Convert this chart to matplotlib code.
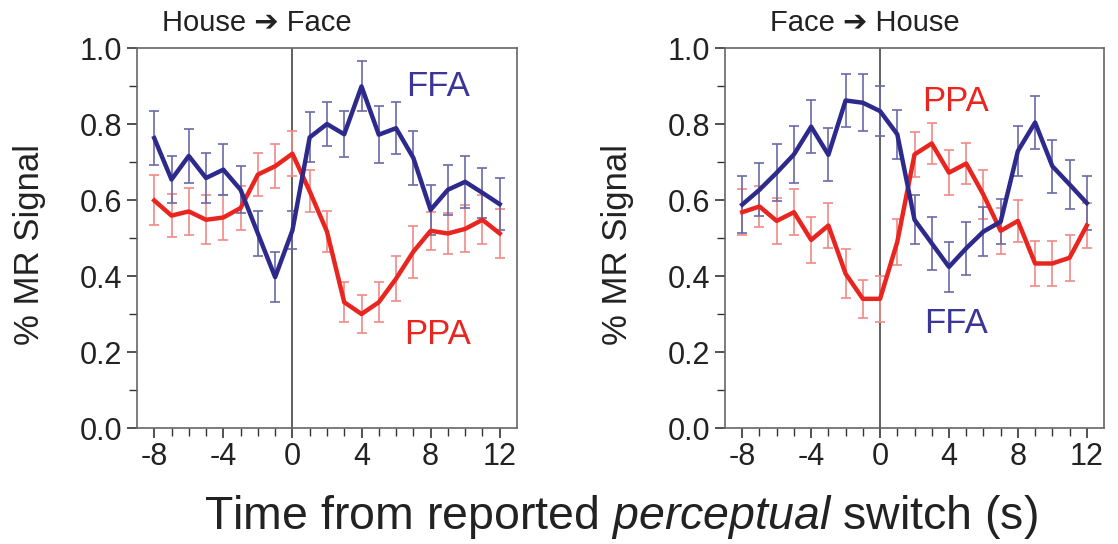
"""
FFA és PPA válasz a perceptuális váltás körül
"""

import matplotlib.pyplot as plt
import numpy as np

# Idő (s)
t = np.arange(-8, 13)

# House -> Face
ffa_hf = [0.763, 0.654, 0.716, 0.658, 0.680, 0.627, 0.512, 0.397, 0.52, 0.765, 0.800,
          0.773, 0.899, 0.772, 0.789, 0.711, 0.574, 0.627, 0.648, 0.619, 0.589]
ffa_hf_err = [0.071, 0.062, 0.07, 0.066, 0.067, 0.062, 0.058, 0.066, 0.05, 0.066, 0.057,
              0.06, 0.066, 0.075, 0.069, 0.071, 0.066, 0.066, 0.069, 0.066, 0.069]
ppa_hf = [0.599, 0.559, 0.570, 0.548, 0.554, 0.579, 0.667, 0.689, 0.722, 0.623, 0.517,
          0.331, 0.300, 0.331, 0.393, 0.464, 0.519, 0.512, 0.524, 0.548, 0.512]
ppa_hf_err = [0.066, 0.057, 0.062, 0.064, 0.06, 0.058, 0.057, 0.058, 0.06, 0.055, 0.053,
              0.053, 0.051, 0.053, 0.06, 0.068, 0.05, 0.053, 0.062, 0.064, 0.064]

# Face -> House
ffa_fh = [0.588, 0.627, 0.672, 0.720, 0.793, 0.719, 0.862, 0.856, 0.834, 0.773, 0.548,
          0.486, 0.424, 0.473, 0.517, 0.543, 0.729, 0.804, 0.689, 0.641, 0.592]
ffa_fh_err = [0.075, 0.07, 0.075, 0.075, 0.07, 0.07, 0.07, 0.075, 0.065, 0.065, 0.065,
              0.07, 0.065, 0.07, 0.065, 0.06, 0.065, 0.07, 0.07, 0.065, 0.07]
ppa_fh = [0.568, 0.583, 0.545, 0.568, 0.495, 0.533, 0.406, 0.340, 0.340, 0.490, 0.720,
          0.749, 0.672, 0.696, 0.614, 0.519, 0.545, 0.433, 0.433, 0.448, 0.533]
ppa_fh_err = [0.06, 0.055, 0.06, 0.06, 0.06, 0.06, 0.065, 0.05, 0.06, 0.06, 0.06,
              0.055, 0.06, 0.055, 0.065, 0.06, 0.055, 0.06, 0.06, 0.06, 0.06]

titles = ['House \u2794 Face', 'Face \u2794 House']

kek = '#2d2a8c'
piros = '#e8261f'
kek_hiba = '#6b6aa8'
piros_hiba = '#f08a86'

plt.rcParams['font.family'] = ['Liberation Sans', 'DejaVu Sans']
plt.rcParams['mathtext.fontset'] = 'custom'
plt.rcParams['mathtext.rm'] = 'Liberation Sans'
plt.rcParams['mathtext.it'] = 'Liberation Sans:italic'
plt.rcParams['axes.unicode_minus'] = False

fig = plt.figure(figsize=(11.18, 5.44), dpi=100)
ax1 = fig.add_axes([0.1225, 0.2132, 0.3399, 0.6985])
ax2 = fig.add_axes([0.6485, 0.2132, 0.3390, 0.6985])

panels = [
    (ax1, ffa_hf, ffa_hf_err, ppa_hf, ppa_hf_err, (8.4, 0.90), (8.4, 0.245)),
    (ax2, ffa_fh, ffa_fh_err, ppa_fh, ppa_fh_err, (4.4, 0.276), (4.4, 0.86)),
]

for ax, ffa, ffa_err, ppa, ppa_err, ffa_pos, ppa_pos in panels:
    ax.axvline(0, color='#444444', lw=1.2, zorder=1)
    ax.errorbar(t, ppa, yerr=ppa_err, fmt='none', ecolor=piros_hiba, elinewidth=1.2,
                capsize=3.5, capthick=1.2, zorder=2)
    ax.errorbar(t, ffa, yerr=ffa_err, fmt='none', ecolor=kek_hiba, elinewidth=1.2,
                capsize=3.5, capthick=1.2, zorder=2)
    ax.plot(t, ppa, color=piros, lw=3.2, zorder=3)
    ax.plot(t, ffa, color=kek, lw=3.2, zorder=4)
    ax.text(*ffa_pos, 'FFA', color='#3a3596', fontsize=25, ha='center', va='center')
    ax.text(*ppa_pos, 'PPA', color=piros, fontsize=25, ha='center', va='center')

    ax.set_xlim(-9, 13)
    ax.set_ylim(0, 1.0)
    ax.set_xticks([-8, -4, 0, 4, 8, 12])
    ax.set_xticks(np.arange(-8, 13), minor=True)
    ax.set_yticks(np.arange(0, 1.01, 0.2))
    ax.set_yticks(np.arange(0, 1.01, 0.1), minor=True)
    ax.set_yticklabels(['%.1f' % v for v in np.arange(0, 1.01, 0.2)])
    ax.tick_params(which='both', direction='out', colors='#333333', labelsize=22,
                   labelcolor='#222222')
    ax.tick_params(which='major', length=7, width=1.2)
    ax.tick_params(which='minor', length=6, width=1.0)
    ax.tick_params(axis='x', pad=3)
    for s in ax.spines.values():
        s.set_color('#666666')
        s.set_linewidth(1.2)
    ax.set_ylabel('% MR Signal', fontsize=25, color='#222222')
    ax.yaxis.set_label_coords(-0.24, 0.484)

# Panel címek
fig.text(257 / 1118, 1 - 23 / 544, titles[0], fontsize=21, ha='center', va='center',
         color='#222222')
fig.text(865 / 1118, 1 - 23 / 544, titles[1], fontsize=21, ha='center', va='center',
         color='#222222')

# Közös x felirat
fig.text(621 / 1118, 1 - 517 / 544, r'Time from reported $\mathit{perceptual}$ switch (s)',
         fontsize=33.5, ha='center', va='center', color='#222222')

plt.savefig('out.png', dpi=100)
